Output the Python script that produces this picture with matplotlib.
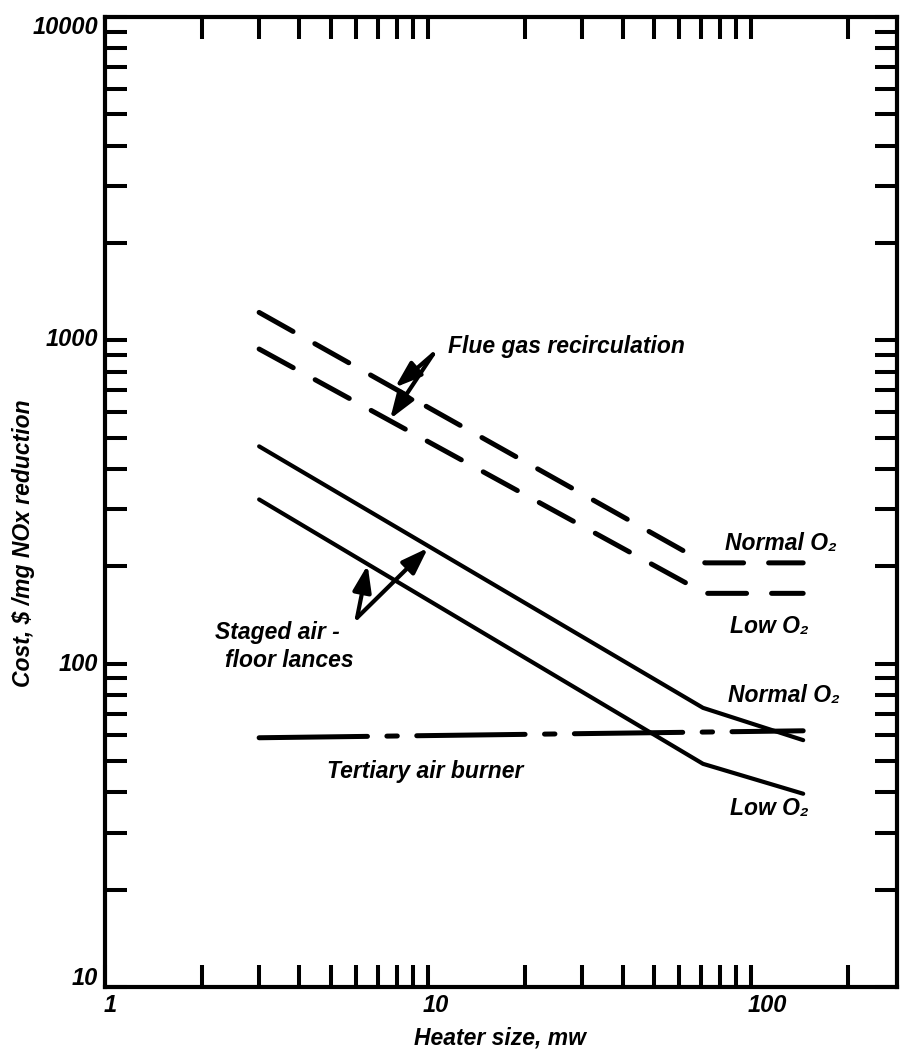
import matplotlib
matplotlib.use("Agg")
import matplotlib.pyplot as plt
from matplotlib.ticker import LogLocator, NullFormatter, FixedLocator, FixedFormatter
from matplotlib.transforms import ScaledTranslation

plt.rcParams['font.family'] = ['Liberation Sans', 'DejaVu Sans']
plt.rcParams['font.style'] = 'italic'
plt.rcParams['font.weight'] = 'bold'
plt.rcParams['axes.labelweight'] = 'bold'
plt.rcParams['lines.scale_dashes'] = False

# ---- data ----
flue_x = [3, 72, 145]
flue_normal_y = [1220, 205, 205]
flue_low_y = [940, 165, 165]

staged_x = [3, 71, 145]
staged_normal_y = [470, 73, 58]
staged_low_y = [322, 49, 39.6]

tertiary_x = [3, 145]
tertiary_y = [59, 62]

x_ticks = [1, 10, 100]
x_tick_labels = ['1', '10', '100']
y_ticks = [10, 100, 1000, 10000]
y_tick_labels = ['10', '100', '1000', '10000']

# ---- figure ----
W, H = 900, 1049
fig = plt.figure(figsize=(W / 100, H / 100), dpi=100)
L, R, T, B = 105, 897, 17, 987
ax = fig.add_axes([L / W, 1 - B / H, (R - L) / W, (B - T) / H])
ax.set_xscale('log')
ax.set_yscale('log')
ax.set_xlim(1, 283)
ax.set_ylim(10, 10000)

lw_dash = 3.6
lw_solid = 3.0

l1, = ax.plot(flue_x, flue_normal_y, color='k', lw=lw_dash, dash_capstyle='round',
              dash_joinstyle='round')
l1.set_dashes((28, 18))
l2, = ax.plot(flue_x, flue_low_y, color='k', lw=lw_dash, dash_capstyle='round',
              dash_joinstyle='round')
l2.set_dashes((28, 18))

ax.plot(staged_x, staged_normal_y, color='k', lw=lw_solid, solid_capstyle='round',
        solid_joinstyle='round')
ax.plot(staged_x, staged_low_y, color='k', lw=lw_solid, solid_capstyle='round',
        solid_joinstyle='round')

l5, = ax.plot(tertiary_x, tertiary_y, color='k', lw=lw_dash, dash_capstyle='round')
l5.set_dashes((78, 14, 7.5, 14))

# ---- axes styling ----
for sp in ax.spines.values():
    sp.set_linewidth(3.0)

ax.xaxis.set_major_locator(FixedLocator(x_ticks))
ax.xaxis.set_major_formatter(FixedFormatter(x_tick_labels))
ax.yaxis.set_major_locator(FixedLocator(y_ticks))
ax.yaxis.set_major_formatter(FixedFormatter(y_tick_labels))
ax.xaxis.set_minor_locator(LogLocator(base=10, subs=range(2, 10)))
ax.yaxis.set_minor_locator(LogLocator(base=10, subs=range(2, 10)))
ax.xaxis.set_minor_formatter(NullFormatter())
ax.yaxis.set_minor_formatter(NullFormatter())

ax.tick_params(which='both', direction='in', top=True, right=True,
               length=15.8, width=2.9, color='k')
ax.tick_params(axis='x', which='major', pad=5, labelsize=17)
ax.tick_params(axis='y', which='major', pad=3.6, labelsize=17)

fig.canvas.draw()
xdx = [5, 8, 16]
for lab, dx in zip(ax.get_xticklabels(), xdx):
    lab.set_transform(lab.get_transform() + ScaledTranslation(dx / 100, 0, fig.dpi_scale_trans))
ydy = [11, 2, 3, -8]
for lab, dy in zip(ax.get_yticklabels(), ydy):
    lab.set_transform(lab.get_transform() + ScaledTranslation(-2 / 100, dy / 100, fig.dpi_scale_trans))

ax.set_xlabel('Heater size, mw', fontsize=16.5, fontweight='bold')
ax.xaxis.set_label_coords(0.499, -0.0526)
ax.xaxis.label.set_va('center')
ax.set_ylabel('Cost, $ /mg NOx reduction', fontsize=16.5, fontweight='bold')
ax.yaxis.set_label_coords(-0.1035, 0.458)
ax.yaxis.label.set_va('center')

# ---- annotations ----
fs = 16.5
ax.text(11.5, 957, 'Flue gas recirculation', fontsize=fs, va='center', ha='left')
ax.text(83, 235, 'Normal O₂', fontsize=fs, va='center', ha='left')
ax.text(86, 130, 'Low O₂', fontsize=fs, va='center', ha='left')
ax.text(85, 80, 'Normal O₂', fontsize=fs, va='center', ha='left')
ax.text(86, 35.6, 'Low O₂', fontsize=fs, va='center', ha='left')
ax.text(4.87, 46.4, 'Tertiary air burner', fontsize=fs, va='center', ha='left')
ax.text(2.19, 125, 'Staged air -', fontsize=fs, va='center', ha='left')
ax.text(2.35, 102, 'floor lances', fontsize=fs, va='center', ha='left')

arrow = dict(arrowstyle='-|>,head_length=0.8,head_width=0.28', color='k', lw=3,
             mutation_scale=20, shrinkA=0, shrinkB=0)
ax.annotate('', xy=(7.9, 715), xytext=(10.36, 905), arrowprops=arrow)
ax.annotate('', xy=(7.63, 571), xytext=(10.36, 905), arrowprops=arrow)
ax.annotate('', xy=(6.5, 202), xytext=(6.03, 138.7), arrowprops=arrow)
ax.annotate('', xy=(10.0, 228), xytext=(6.03, 138.7), arrowprops=arrow)

fig.savefig('out.png', dpi=100)
